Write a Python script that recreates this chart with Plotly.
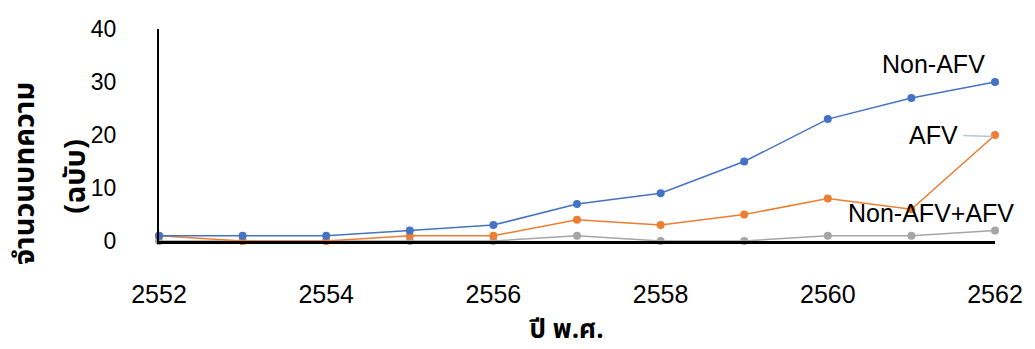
import plotly.graph_objects as go

years = list(range(2552, 2563))
non_afv = [1, 1, 1, 2, 3, 7, 9, 15, 23, 27, 30]
afv = [1, 0, 0, 1, 1, 4, 3, 5, 8, 6, 20]
non_afv_plus_afv = [0, 0, 0, 0, 0, 1, 0, 0, 1, 1, 2]
series_names = ["Non-AFV", "AFV", "Non-AFV+AFV"]
x_ticks = [2552, 2554, 2556, 2558, 2560, 2562]
y_ticks = [0, 10, 20, 30, 40]
y_title_1 = "จำนวนบทความ"
y_title_2 = "(ฉบับ)"
x_title = "ปี พ.ศ."

colors = ["#4472C4", "#ED7D31", "#A5A5A5"]
LAT = "Liberation Sans, Arial, sans-serif"
THAI = "Noto Sans Thai, Tahoma, Leelawadee UI, DejaVu Sans, sans-serif"

fig = go.Figure()
for name, vals, c in zip(series_names, [non_afv, afv, non_afv_plus_afv], colors):
    fig.add_trace(go.Scatter(
        x=years, y=vals, mode="lines+markers", name=name,
        line=dict(color=c, width=1.5),
        marker=dict(color=c, size=8),
        cliponaxis=False, showlegend=False,
    ))
# draw gray series first so others sit on top
fig.data = (fig.data[2], fig.data[1], fig.data[0])

fig.update_layout(
    width=1035, height=349,
    margin=dict(l=159, r=33, t=29, b=108),
    paper_bgcolor="white", plot_bgcolor="white",
    font=dict(family=LAT, color="#000000"),
    xaxis=dict(
        range=[2552, 2562], tickvals=x_ticks, ticktext=[str(v) for v in x_ticks],
        showgrid=False, zeroline=False, showline=True, linecolor="black", linewidth=2.5,
        ticks="", tickfont=dict(size=25, family=LAT), ticklabelstandoff=29,
    ),
    yaxis=dict(
        range=[0, 40], tickvals=y_ticks, showgrid=False, zeroline=False,
        showline=True, linecolor="black", linewidth=2,
        ticks="", tickfont=dict(size=23, family=LAT), ticklabelstandoff=36,
    ),
)

ann = []
ann.append(dict(x=24, y=174, xref="paper", yref="paper", text="<b>" + y_title_1 + "</b>", size=29))
ann.append(dict(x=75, y=176, xref="paper", yref="paper", text="<b>" + y_title_2 + "</b>", size=29))
for a in ann:
    s = a.pop("size")
    a.update(textangle=-90, showarrow=False, xanchor="center", yanchor="middle",
             font=dict(size=s, family=THAI, color="black"))
    a["x"] = (a["x"] - 159) / 843
    a["y"] = (349 - 108 - a["y"]) / 212
fig.update_layout(annotations=ann)

fig.add_annotation(x=(570 - 159) / 843, y=(349 - 108 - 330) / 212, xref="paper", yref="paper",
                   text="<b>" + x_title + "</b>", showarrow=False, xanchor="center", yanchor="middle",
                   font=dict(size=26, family=THAI, color="black"))

# series labels
lab_pos = [(940, 64), (940, 135), (937, 213)]
for name, (px, py) in zip(series_names, lab_pos):
    fig.add_annotation(x=(px - 159) / 843, y=(241 - py) / 212, xref="paper", yref="paper",
                       text=name, showarrow=False, xanchor="center", yanchor="middle",
                       font=dict(size=25, family=LAT, color="black"))
# leader line for AFV label
fig.add_shape(type="line", xref="x", yref="y", x0=2561.62, x1=2561.97, y0=19.9, y1=19.7,
              line=dict(color="#B8C4D4", width=1.5))

fig.write_html("out.html")
